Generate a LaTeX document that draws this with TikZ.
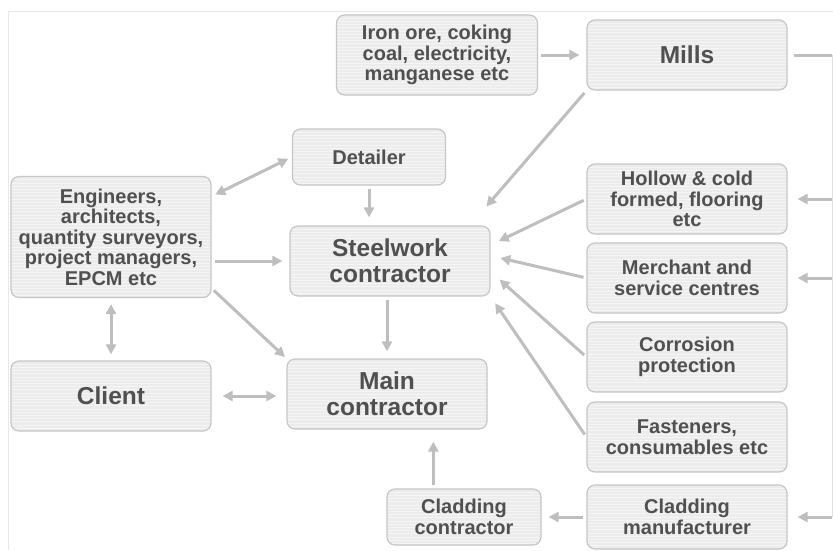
\documentclass[tikz,border=0pt]{standalone}
\usepackage{fontspec}
\setmainfont{Liberation Sans}
\usepackage{xcolor}
\usepackage{tikz}
\usetikzlibrary{shapes,arrows.meta,positioning}

\definecolor{boxfill}{HTML}{ECECEC}
\definecolor{boxline}{HTML}{C6C6C6}
\definecolor{flowgray}{HTML}{BEBEBE}
\definecolor{inkgray}{HTML}{505050}

\begin{document}
\begin{tikzpicture}[x=1pt, y=-1pt,
    party/.style={rectangle, rounded corners=8pt, draw=boxline, line width=1.2pt, fill=boxfill, text=inkgray, align=center, inner sep=1pt, minimum width=200pt, minimum height=70pt, font=\bfseries\fontsize{20}{20.5}\selectfont,
        path picture={\foreach \k in {1,...,40} \draw[white!45!boxfill, line width=0.7pt] ([yshift=-3.2*\k pt]path picture bounding box.north west) -- ([yshift=-3.2*\k pt]path picture bounding box.north east);}},
    keyparty/.style={party, font=\bfseries\fontsize{24.5}{26}\selectfont},
    supply/.style={draw=flowgray, line width=3pt, -{Triangle[length=10pt,width=10pt]}, shorten >=7pt, shorten <=3pt},
    twoway/.style={supply, {Triangle[length=10pt,width=10pt]}-{Triangle[length=10pt,width=10pt]}, shorten <=7pt},
    wire/.style={draw=flowgray, line width=3pt}]
    \useasboundingbox (0,0) rectangle (833,550);
    \draw[black!9, line width=0.8pt] (8,550) -- (8,11) -- (833,11);

    \node[party, minimum height=121pt] (eng) at (111,237) {Engineers,\\architects,\\quantity surveyors,\\project managers,\\EPCM etc};
    \node[keyparty] (client) [below of=eng, node distance=159pt] {Client};
    \node[party, minimum width=153pt, minimum height=56pt] (detailer) at (369,157) {Detailer};
    \node[keyparty] (steel) at (390,261) {Steelwork\\contractor};
    \node[keyparty] (main) at (387,394) {Main\\contractor};
    \node[party, minimum width=201pt, minimum height=80pt] (iron) at (437,55) {Iron ore, coking\\coal, electricity,\\manganese etc};
    \node[keyparty] (mills) [right of=iron, node distance=250pt] {Mills};
    \node[party] (hollow) [below of=mills, node distance=144pt] {Hollow \& cold\\formed, flooring\\etc};
    \node[party] (merchant) [below of=hollow, node distance=79pt] {Merchant and\\service centres};
    \node[party] (corrosion) [below of=merchant, node distance=79pt] {Corrosion\\protection};
    \node[party] (fasteners) [below of=corrosion, node distance=80pt] {Fasteners,\\consumables etc};
    \node[party, minimum height=64pt] (cladman) [below of=fasteners, node distance=80pt] {Cladding\\manufacturer};
    \node[party, minimum width=154pt, minimum height=56pt] (cladcon) [left of=cladman, node distance=223pt] {Cladding\\contractor};
    \coordinate (bus) at (832,55);

    \draw[supply] (iron) -- (mills);
    \draw[supply, shorten >=25pt] (mills.south west) -- (steel.24);
    \draw[twoway, shorten <=4pt, shorten >=4pt] (detailer.west) -- (eng.22);
    \draw[supply, shorten >=8pt] (detailer.south) -- (detailer.south |- steel.north);
    \draw[supply] (steel.west -| eng.east) -- (steel.west);
    \draw[supply, shorten >=2pt] (eng.-27) -- (main.north west);
    \draw[twoway, shorten <=6pt, shorten >=6pt] (eng.south) -- (client.north);
    \draw[supply] (main.north |- steel.south) -- (main.north);
    \draw[twoway, shorten <=11pt, shorten >=10pt] (client.east) -- (client.east -| main.west);
    \draw[supply, shorten >=12pt] (cladcon.137) -- (cladcon.137 |- main.south);
    \draw[supply] (cladman.west) -- (cladcon.east);
    \draw[supply, shorten >=9pt] (hollow.west) -- (steel.9);
    \draw[supply, shorten >=10pt] (merchant.west) -- (steel.3);
    \draw[supply, shorten >=12pt] (corrosion.west) -- (steel.-6);
    \draw[supply, shorten >=8pt] (fasteners.west) -- (steel.south east);
    \draw[wire, shorten <=6pt] (mills.east) -- (bus);
    \draw[black!12, line width=1pt] (bus) -- (bus |- cladman.east);
    \draw[supply, shorten >=10pt, shorten <=0pt] (bus |- hollow.east) -- (hollow.east);
    \draw[supply, shorten >=10pt, shorten <=0pt] (bus |- merchant.east) -- (merchant.east);
    \draw[supply, shorten >=10pt, shorten <=0pt] (bus |- cladman.east) -- (cladman.east);
\end{tikzpicture}
\end{document}
